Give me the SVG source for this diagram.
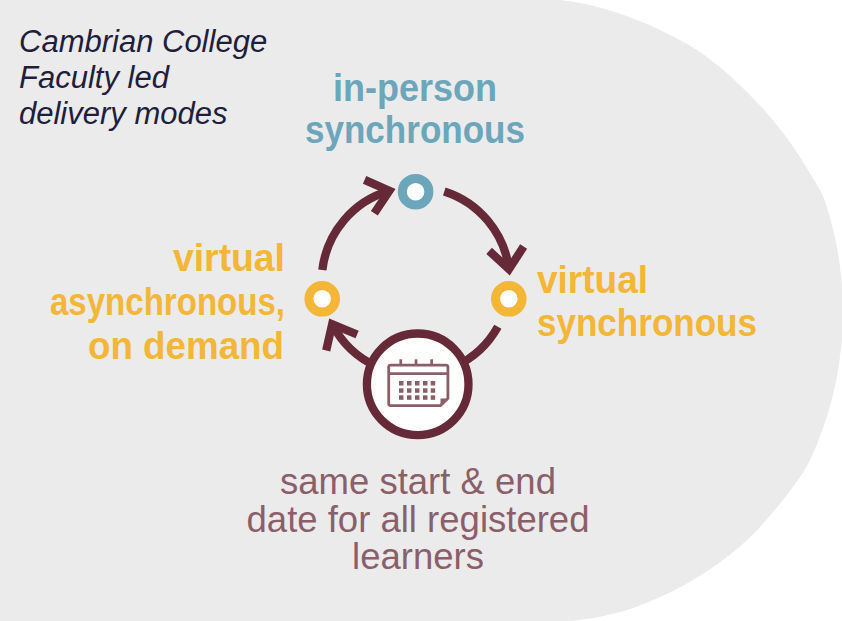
<svg xmlns="http://www.w3.org/2000/svg" width="842" height="621" viewBox="0 0 842 621">
  <style>
    .bg { fill: #ebebeb; }
    .title { font-family: "Liberation Sans", Arial, sans-serif; font-style: italic; font-size: 31px; fill: #211e3b; }
    .mode { font-family: "Liberation Sans", Arial, sans-serif; font-weight: bold; font-size: 38px; }
    .blue { fill: #6ba6bb; }
    .yellow { fill: #f3b636; }
    .note { font-family: "Liberation Sans", Arial, sans-serif; font-size: 36.5px; fill: #8b5f6a; }
    .arc { fill: none; stroke: #662937; stroke-width: 8.3; stroke-linecap: butt; }
    .ring { fill: #ffffff; stroke-width: 9; }
    .ring-blue { stroke: #6ba6bb; }
    .ring-yellow { stroke: #f3b636; }
    .cal-ring { fill: #ffffff; stroke: #662937; stroke-width: 8.3; }
    .cal-line { fill: none; stroke: #8b5f6a; stroke-width: 2.8; }
    .cal-fill { fill: #8b5f6a; }
  </style>
  <defs>
    <marker id="chev" markerUnits="userSpaceOnUse" orient="auto" refX="0" refY="0" markerWidth="40" markerHeight="40" overflow="visible">
      <path d="M-20.7,-17.4 L0,0 L-20.7,17.4" fill="none" stroke="#662937" stroke-width="8.3" stroke-linejoin="miter" stroke-linecap="butt"/>
    </marker>
  </defs>

  <path class="bg" d="M0,0 L560,0 C600,4 642,20 674,37 C705.3,52.5 726,71.3 748,93 C770,114.7 790.8,140.8 806,167 C812.8,178.8 820.9,189 824.6,200 A310,330 0 0 1 810,460 C799.6,482 771,514.7 760,527 C749,539.3 738.2,548.2 727,557 C715.8,565.8 704.2,573.3 693,580 C681.8,586.7 671,592 660,597 C649,602 638.2,606.5 627,610 C615.8,613.5 604.2,616 593,618 C581.8,620 571,620.7 560,622 L0,622 Z"/>

  <g id="title">
    <text class="title" x="19" y="52">Cambrian College</text>
    <text class="title" x="19" y="88">Faculty led</text>
    <text class="title" x="19" y="124">delivery modes</text>
  </g>

  <g id="connectors">
    <path class="arc" d="M322.34,270.03 A94,94 0 0 1 389.32,190.78" marker-end="url(#chev)"/>
    <path class="arc" d="M444.28,191.45 A94,94 0 0 1 508.96,269.22" marker-end="url(#chev)"/>
    <path class="arc" d="M497.84,326.71 A94,94 0 0 1 455.43,366.19"/>
    <path class="arc" d="M375.97,366.19 A94,94 0 0 1 332.17,324.11" marker-end="url(#chev)"/>
  </g>

  <g id="node-in-person">
    <circle class="ring ring-blue" cx="415.6" cy="191.7" r="13.3"/>
    <text class="mode blue" x="333" y="100.5" textLength="164" lengthAdjust="spacingAndGlyphs">in-person</text>
    <text class="mode blue" x="305" y="143" textLength="220" lengthAdjust="spacingAndGlyphs">synchronous</text>
  </g>

  <g id="node-virtual-synchronous">
    <circle class="ring ring-yellow" cx="508.8" cy="298.8" r="13.3"/>
    <text class="mode yellow" x="537" y="293" textLength="111" lengthAdjust="spacingAndGlyphs">virtual</text>
    <text class="mode yellow" x="537" y="336" textLength="220" lengthAdjust="spacingAndGlyphs">synchronous</text>
  </g>

  <g id="node-virtual-asynchronous">
    <circle class="ring ring-yellow" cx="322.2" cy="298.8" r="13.3"/>
    <text class="mode yellow" x="173" y="271" textLength="112" lengthAdjust="spacingAndGlyphs">virtual</text>
    <text class="mode yellow" x="50" y="315" textLength="235" lengthAdjust="spacingAndGlyphs">asynchronous,</text>
    <text class="mode yellow" x="88" y="359" textLength="196" lengthAdjust="spacingAndGlyphs">on demand</text>
  </g>

  <g id="node-calendar">
    <circle class="cal-ring" cx="417.7" cy="384.3" r="50.8"/>
    <path class="cal-line" d="M390.7,365.1 H445.9 Q447.9,365.1 447.9,367.1 V398.5 L440.5,405.6 H390.7 Q388.7,405.6 388.7,403.6 V367.1 Q388.7,365.1 390.7,365.1 Z"/>
    <line class="cal-line" x1="388.7" y1="373.7" x2="447.9" y2="373.7"/>
    <polygon class="cal-fill" points="447.9,398.5 440.5,398.5 440.5,405.6"/>
    <rect class="cal-fill" x="399.4" y="359.3" width="2.7" height="6.5"/>
    <rect class="cal-fill" x="414.7" y="359.3" width="2.7" height="6.5"/>
    <rect class="cal-fill" x="430.3" y="359.3" width="2.7" height="6.5"/>
    <g class="cal-fill">
      <rect x="399" y="381" width="4.5" height="4.5"/>
      <rect x="407" y="381" width="4.5" height="4.5"/>
      <rect x="415" y="381" width="4.5" height="4.5"/>
      <rect x="423" y="381" width="4.5" height="4.5"/>
      <rect x="430.7" y="381" width="4.5" height="4.5"/>
      <rect x="399" y="388.3" width="4.5" height="4.5"/>
      <rect x="407" y="388.3" width="4.5" height="4.5"/>
      <rect x="415" y="388.3" width="4.5" height="4.5"/>
      <rect x="423" y="388.3" width="4.5" height="4.5"/>
      <rect x="430.7" y="388.3" width="4.5" height="4.5"/>
      <rect x="399" y="395.3" width="4.5" height="4.5"/>
      <rect x="407" y="395.3" width="4.5" height="4.5"/>
      <rect x="415" y="395.3" width="4.5" height="4.5"/>
      <rect x="423" y="395.3" width="4.5" height="4.5"/>
      <rect x="430.7" y="395.3" width="4.5" height="4.5"/>
    </g>
    <text class="note" x="418" y="494" text-anchor="middle">same start &amp; end</text>
    <text class="note" x="418" y="532" text-anchor="middle">date for all registered</text>
    <text class="note" x="418" y="569" text-anchor="middle">learners</text>
  </g>
</svg>
